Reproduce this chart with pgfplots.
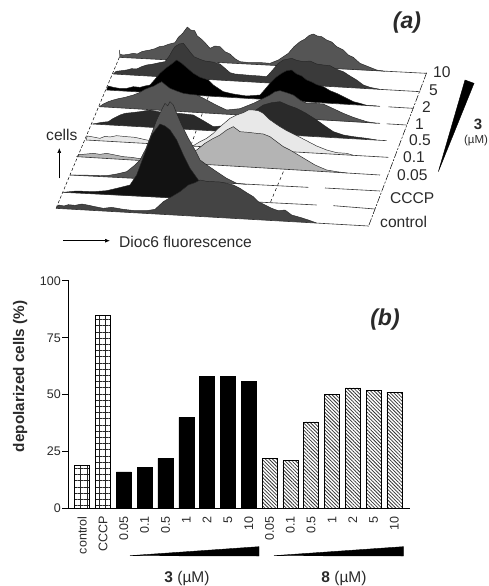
\documentclass[border=0pt]{standalone}
\usepackage{fontspec}
\setmainfont{Liberation Sans}
\usepackage{pgfplots}
\pgfplotsset{compat=1.18}
\usetikzlibrary{patterns.meta,arrows.meta}
\definecolor{txt}{HTML}{2A2A2A}
\definecolor{gray1}{HTML}{2A2A2A}
\definecolor{gray2}{HTML}{3A3A3A}
\definecolor{gray3}{HTML}{555555}
\definecolor{gray4}{HTML}{444444}
\definecolor{light1}{HTML}{E8E8E8}
\definecolor{light2}{HTML}{B4B4B4}
\pgfplotstableread{
x y
0 19
1 85
}\ctrl
\pgfplotstableread{
x y
2 16
3 18
4 22
5 40
6 58
7 58
8 56
}\cmpThree
\pgfplotstableread{
x y
9 22
10 21
11 38
12 50
13 53
14 52
15 51
}\cmpEight
% #1 colour, #2 upper outline, #3 start of the base
\newcommand{\ridge}[3]{%
  \addplot[draw=none,fill=#1] coordinates {#2 #3};
  \addplot[black!85,line width=0.45pt,line join=round] coordinates {#2};}
\newcommand{\base}[1]{\addplot[black!80,line width=0.6pt] coordinates {#1};}
\begin{document}
\begin{tikzpicture}[x=1pt,y=1pt]
\path (0,0) rectangle (488,586);
% panel a, histogram surfaces, in a hidden axis
\begin{axis}[at={(0pt,0pt)},anchor=south west,scale only axis,width=488pt,height=586pt,
  xmin=0,xmax=1464,ymin=0,ymax=1758,y dir=reverse,axis lines=none,clip=false]
% frame
\addplot[black,line width=0.5pt,densely dashed] coordinates {(358,172)(168,625)};
\addplot[black,line width=0.5pt,dash pattern=on 7pt off 1.5pt on 2pt off 1.5pt] coordinates {(1280,218)(1105,680)};
\addplot[black,line width=0.5pt,dashed] coordinates {(850,515)(810,610)};
\addplot[black,line width=0.5pt,dashed] coordinates {(625,290)(575,430)};
\ridge{gray3}{(358,150)(360,163)(370,165)(385,163)(400,160)(412,162)(425,155)(438,152)(450,150)(465,146)(478,140)(492,138)(505,133)(525,128)(535,112)(548,100)(562,81)(572,90)(584,92)(592,108)(605,118)(615,128)(630,145)(645,138)(660,140)(675,155)(690,162)(705,176)(720,185)(750,188)(785,188)(810,190)(835,180)(865,160)(882,140)(900,125)(915,117)(928,106)(940,102)(952,108)(965,110)(980,120)(995,126)(1010,140)(1030,150)(1045,165)(1060,172)(1080,190)(1100,198)(1130,210)(1155,214)}{(358,172)}
\base{(358,172)(1280,220)}
\ridge{gray2}{(340,222)(348,214)(365,212)(380,210)(395,206)(410,207)(425,200)(440,195)(460,192)(478,188)(495,185)(508,168)(518,150)(525,140)(538,132)(550,130)(562,145)(572,158)(582,170)(600,178)(615,183)(630,185)(645,188)(660,192)(675,205)(690,218)(705,222)(750,226)(780,228)(800,230)(818,210)(835,190)(850,180)(875,175)(890,181)(910,185)(930,183)(950,192)(970,195)(990,197)(1010,208)(1030,215)(1050,228)(1070,240)(1090,255)(1110,262)(1140,268)}{(340,222)}
\base{(340,222)(1260,275)}
\ridge{black}{(320,268)(325,258)(340,262)(358,265)(380,265)(400,260)(420,262)(435,258)(450,255)(465,238)(480,220)(497,205)(515,192)(530,180)(545,190)(560,203)(580,220)(600,232)(625,240)(640,255)(655,265)(670,275)(700,282)(740,288)(780,285)(795,268)(810,250)(828,232)(845,220)(860,212)(875,210)(890,222)(905,228)(920,240)(935,246)(950,254)(970,260)(990,272)(1010,280)(1040,295)(1060,305)(1080,310)(1100,316)(1130,318)}{(320,270)}
\base{(320,270)(1140,319)}
\base{(1165,320.5)(1240,325)}
\ridge{gray3}{(298,320)(310,312)(325,305)(340,300)(355,296)(375,292)(400,285)(418,278)(435,268)(450,262)(462,258)(475,250)(485,245)(497,255)(510,265)(530,273)(550,280)(570,283)(590,285)(605,292)(620,300)(650,316)(680,330)(720,326)(760,310)(790,295)(810,285)(825,275)(840,272)(860,278)(880,285)(900,300)(920,310)(945,310)(970,312)(1000,326)(1030,340)(1060,352)(1100,365)(1130,370)}{(298,320)}
\base{(298,320)(1140,370)}
\base{(1160,371.5)(1220,375)}
\ridge{gray1}{(278,372)(290,370)(305,367)(325,365)(340,355)(360,345)(375,340)(395,338)(420,335)(450,330)(475,335)(500,340)(535,340)(555,342)(580,345)(610,362)(640,380)(700,375)(760,335)(790,315)(815,308)(840,305)(865,316)(890,325)(915,338)(950,360)(975,378)(1000,395)(1030,405)(1060,410)(1100,415)(1130,420)}{(278,372)}
\base{(278,372)(1160,422)}
\ridge{light1}{(258,420)(262,408)(280,411)(300,415)(315,409)(330,411)(350,407)(380,410)(405,412)(440,420)(500,428)(580,437)(600,425)(620,415)(640,400)(655,385)(670,372)(690,355)(710,345)(730,338)(745,330)(760,330)(775,332)(790,340)(808,358)(825,370)(840,380)(860,392)(880,402)(900,412)(925,425)(950,438)(980,450)(1010,458)(1040,460)(1060,466)}{(258,420)}
\base{(258,420)(1165,472)}
\ridge{light2}{(230,470)(238,464)(260,462)(280,460)(300,463)(320,460)(345,465)(370,470)(395,472)(420,476)(500,482)(590,450)(615,430)(640,415)(660,405)(680,390)(700,380)(720,395)(745,397)(770,400)(790,402)(810,410)(830,425)(850,440)(870,450)(895,465)(920,480)(945,495)(980,510)(1010,515)(1040,519)}{(230,470)}
\base{(230,470)(1140,525)}
\ridge{gray3}{(210,525)(235,525)(280,526)(320,527)(350,522)(380,515)(405,495)(420,480)(438,445)(455,400)(470,360)(482,335)(495,310)(503,318)(510,305)(520,315)(530,340)(545,375)(565,415)(585,450)(600,480)(625,498)(650,515)(680,535)(710,550)(740,553)}{(210,525)}
\base{(210,525)(925,562)}
\base{(975,564)(1140,573)}
\ridge{black!93}{(190,577)(230,573)(280,575)(320,572)(350,565)(390,555)(410,525)(425,485)(440,445)(455,405)(470,385)(480,372)(495,378)(510,390)(530,420)(550,465)(570,505)(595,540)(620,565)(650,590)(660,602)}{(190,577)}
\base{(190,577)(950,615)}
\base{(1000,617)(1125,627)}
\ridge{gray4}{(168,625)(176,615)(192,618)(205,614)(225,616)(245,612)(262,615)(285,620)(310,625)(335,622)(370,628)(405,632)(440,632)(465,628)(490,605)(515,590)(540,575)(565,555)(585,548)(600,540)(620,544)(640,545)(660,546)(680,550)(700,555)(720,565)(740,578)(760,590)(775,605)(795,615)(815,625)(835,632)(855,630)(875,645)(900,652)(925,660)(950,669)}{(168,625)}
\base{(168,625)(1105,678)}
% wedge of panel a
\addplot[black,fill=black] coordinates {(1315,515)(1395,240)(1422,250)(1315,515)};
% wedges of panel b
\addplot[black,fill=black] coordinates {(390,1667)(777,1640)(777,1668)(390,1667)};
\addplot[black,fill=black] coordinates {(822,1667)(1210,1640)(1210,1668)(822,1667)};
\end{axis}
\begin{axis}[at={(68.5pt,77.7pt)},anchor=south west,scale only axis,width=341.5pt,height=227.3pt,
  xmin=-0.66,xmax=15.75,ymin=0,ymax=100,axis x line=bottom,axis y line=left,
  axis line style={line width=1.1pt,-},
  ytick={0,25,50,75,100},xtick={0,...,15},
  xticklabels={control,CCCP,0.05,0.1,0.5,1,2,5,10,0.05,0.1,0.5,1,2,5,10},
  tick style={line width=1pt,black},
  x tick style={draw=none},
  major tick length=6pt,
  tick align=outside,
  tick label style={font=\fontsize{12.5}{12.5}\selectfont,text=txt},
  /pgf/number format/assume math mode=true,
  x tick label style={rotate=90,anchor=east,inner sep=2pt},
  y tick label style={inner sep=1.5pt},
  ylabel={\bfseries depolarized cells (\%)},
  ylabel style={font=\fontsize{15.3}{15.3}\selectfont,text=txt,at={(axis description cs:-0.11,0.58)}},
  ybar,bar width=15pt,bar shift=0pt,clip=false]
\addplot[draw=black,line width=0.5pt,pattern={Hatch[angle=0,distance=6.2pt,line width=0.4pt]},pattern color=black!85] table[x=x,y=y] {\ctrl};
\addplot[draw=black,fill=black,line width=0.5pt] table[x=x,y=y] {\cmpThree};
\addplot[draw=black,line width=0.5pt,pattern={Lines[angle=-45,distance=2.5pt,line width=0.75pt]},pattern color=black!80] table[x=x,y=y] {\cmpEight};
\end{axis}
% text
\begin{scope}[every node/.style={inner sep=0pt,text=txt,font=\fontsize{15.6}{15.6}\selectfont}]
\node[font=\fontsize{23}{23}\selectfont\bfseries\itshape] at (407,563) {(a)};
\node[font=\fontsize{23}{23}\selectfont\bfseries\itshape] at (385,266) {(b)};
\node[anchor=west] at (433,514) {10};
\node[anchor=west] at (429,496) {5};
\node[anchor=west] at (422,479) {2};
\node[anchor=west] at (415,462) {1};
\node[anchor=west] at (409,446) {0.5};
\node[anchor=west] at (403,429) {0.1};
\node[anchor=west] at (397,411) {0.05};
\node[anchor=west] at (390,388) {CCCP};
\node[anchor=west] at (380,364) {control};
\node[anchor=west] at (46,451) {cells};
\node[anchor=west] at (119,344) {Dioc6 fluorescence};
\node[font=\fontsize{15}{15}\selectfont\bfseries] at (478,462) {3};
\node[font=\fontsize{11.5}{11.5}\selectfont] at (476,445) {(µM)};
\node[anchor=center,font=\fontsize{15.5}{15.5}\selectfont] at (187,8) {\textbf{3} (µM)};
\node[anchor=center,font=\fontsize{15.5}{15.5}\selectfont] at (344,8) {\textbf{8} (µM)};
\end{scope}
\draw[-{Latex[length=5pt,width=4pt]},line width=0.7pt,black] (59.3,407.7) -- (59.3,438);
\draw[-{Latex[length=5pt,width=4pt]},line width=0.7pt,black] (63,345.3) -- (110,345.3);
\end{tikzpicture}
\end{document}
